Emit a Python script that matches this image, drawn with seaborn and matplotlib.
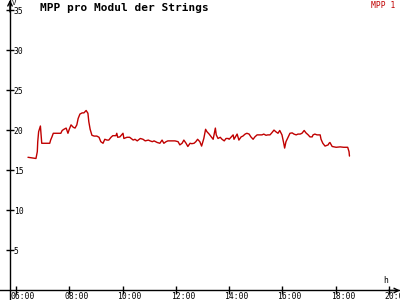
import matplotlib
matplotlib.use("Agg")
import matplotlib.pyplot as plt
import matplotlib.transforms as mtransforms
import numpy as np
import pandas as pd
import seaborn as sns

# ---- data (minutes since midnight, MPP voltage) ----
minutes = [387, 405, 408, 409, 411, 415, 416, 418, 436, 438, 441, 444, 461, 464, 468,
           473, 477, 480, 484, 489, 493, 497, 500, 504, 509, 513, 518, 522, 524, 527,
           531, 536, 542, 547, 551, 556, 560, 565, 569, 574, 578, 585, 587, 589, 594,
           601, 603, 610, 616, 624, 628, 633, 640, 646, 651, 658, 662, 667, 671, 678,
           684, 689, 693, 698, 702, 707, 714, 718, 725, 729, 734, 738, 743, 747, 752,
           756, 761, 765, 769, 774, 778, 783, 787, 790, 795, 800, 804, 809, 811, 815,
           820, 824, 829, 833, 838, 840, 844, 849, 851, 858, 862, 867, 871, 876, 880,
           885, 889, 894, 898, 903, 909, 914, 918, 923, 927, 932, 936, 941, 945, 950,
           954, 959, 963, 965, 968, 973, 977, 982, 986, 991, 995, 1000, 1004, 1009, 1013,
           1018, 1022, 1027, 1029, 1033, 1038, 1045, 1047, 1051, 1056, 1063, 1065, 1067, 1072, 1081,
           1090, 1098, 1107, 1110, 1111]
mpp1 = [16.65, 16.5, 17.35, 18.6, 19.85, 20.56, 19.85, 18.4, 18.4, 18.8, 19.2, 19.65, 19.65, 20.0, 20.15,
        20.3, 19.65, 20.15, 20.7, 20.4, 20.3, 20.7, 21.5, 22.05, 22.2, 22.2, 22.5, 22.15, 21.1, 20.15,
        19.4, 19.3, 19.3, 19.15, 18.6, 18.4, 18.9, 18.8, 18.8, 19.15, 19.35, 19.35, 19.65, 19.15, 19.2,
        19.65, 19.0, 19.15, 19.15, 18.8, 18.9, 18.7, 19.0, 18.9, 18.7, 18.8, 18.7, 18.6, 18.7, 18.5,
        18.4, 18.8, 18.4, 18.6, 18.7, 18.7, 18.7, 18.7, 18.6, 18.2, 18.4, 18.8, 18.4, 18.0, 18.4,
        18.35, 18.4, 18.6, 18.9, 18.6, 18.05, 19.0, 20.15, 19.85, 19.55, 19.2, 18.9, 20.3, 19.45, 19.0,
        19.15, 18.9, 18.7, 19.0, 19.0, 18.9, 19.15, 19.45, 18.9, 19.55, 18.8, 19.2, 19.3, 19.55, 19.65,
        19.55, 19.2, 18.9, 19.2, 19.45, 19.45, 19.45, 19.55, 19.4, 19.45, 19.45, 19.7, 20.05, 19.85, 19.65,
        20.0, 19.45, 18.4, 17.8, 18.6, 19.2, 19.65, 19.7, 19.55, 19.45, 19.55, 19.55, 19.65, 20.0, 19.7,
        19.45, 19.2, 19.2, 19.45, 19.55, 19.45, 19.45, 18.9, 18.4, 18.05, 18.2, 18.4, 18.5, 18.0, 17.9,
        17.95, 17.9, 17.9, 17.35, 16.8]
series_name = "MPP 1"
title = "MPP pro Modul der Strings"
x_ticks = [360, 480, 600, 720, 840, 960, 1080, 1200]
x_tick_labels = ["06:00", "08:00", "10:00", "12:00", "14:00", "16:00", "18:00", "20:00"]
y_ticks = [5, 10, 15, 20, 25, 30, 35]
y_unit = "V"
x_unit = "h"

RED = "#c00000"
MONO = ["DejaVu Sans Mono"]

sns.set_style("white")
plt.rcParams["font.family"] = MONO
plt.rcParams["text.color"] = "black"
plt.rcParams["axes.labelcolor"] = "black"
plt.rcParams["xtick.color"] = "black"
plt.rcParams["ytick.color"] = "black"

fig = plt.figure(figsize=(4, 3), dpi=100)
fig.patch.set_facecolor("white")
ax = fig.add_axes([0, 0, 1, 1])
ax.set_facecolor("white")

df = pd.DataFrame({"t": minutes, "v": mpp1})
sns.lineplot(data=df, x="t", y="v", ax=ax, color=RED, linewidth=1.0, label=series_name)

ax.set_xlim(324.0, 1224.8)
ax.set_ylim(-1.19, 36.31)
yaxis_x = 346.5

ax.spines["top"].set_visible(False)
ax.spines["left"].set_position(("data", yaxis_x))
ax.spines["right"].set_position(("data", yaxis_x))
ax.spines["right"].set_visible(False)
ax.spines["bottom"].set_position(("data", 0))
for s in ["left", "bottom"]:
    ax.spines[s].set_color("black")
    ax.spines[s].set_linewidth(1.0)

ax.set_xticks(x_ticks)
ax.set_xticklabels(x_tick_labels)
ax.set_yticks(y_ticks)
ax.set_yticklabels([str(v) for v in y_ticks])
ax.tick_params(axis="y", direction="inout", length=6, width=1, left=True, right=False,
               labelleft=False, labelright=True, pad=-0.3, labelsize=5.8,
               colors="black")
ax.tick_params(axis="x", direction="inout", length=6, width=1, bottom=True, top=False,
               pad=-1.9, labelsize=5.8, colors="black")
offset = mtransforms.ScaledTranslation(-5 / 100, 0, fig.dpi_scale_trans)
for lab in ax.get_xticklabels():
    lab.set_horizontalalignment("left")
    lab.set_transform(lab.get_transform() + offset)

# arrow heads
ax.annotate("", xy=(1.0, 0), xytext=(0.97, 0), xycoords=ax.get_yaxis_transform(),
            arrowprops=dict(arrowstyle="->", color="black", lw=1.0, shrinkA=0, shrinkB=0,
                            mutation_scale=8))
ax.annotate("", xy=(yaxis_x, 1.0), xytext=(yaxis_x, 0.96), xycoords=ax.get_xaxis_transform(),
            arrowprops=dict(arrowstyle="->", color="black", lw=1.0, shrinkA=0, shrinkB=0,
                            mutation_scale=8))

ax.set_ylabel(y_unit, rotation=0, fontsize=5.2, ha="left", va="top")
ax.yaxis.set_label_coords(11.5 / 400, 1 - 0.0 / 300)
ax.set_xlabel(x_unit, fontsize=5.8, ha="left", va="bottom")
ax.xaxis.set_label_coords(383 / 400, 1 - 285 / 300)

fig.text(40 / 400, 1 - 3 / 300, title, fontsize=8, fontweight="bold", ha="left", va="top",
         family=MONO, color="black")

leg = ax.legend(loc="upper right", bbox_to_anchor=(395 / 400, 1 - 1.5 / 300),
                bbox_transform=fig.transFigure, frameon=False, handlelength=0,
                handletextpad=0, borderaxespad=0, borderpad=0, fontsize=5.8,
                labelcolor="linecolor")
for h in leg.legend_handles:
    h.set_visible(False)

fig.savefig("out.png", dpi=100)
